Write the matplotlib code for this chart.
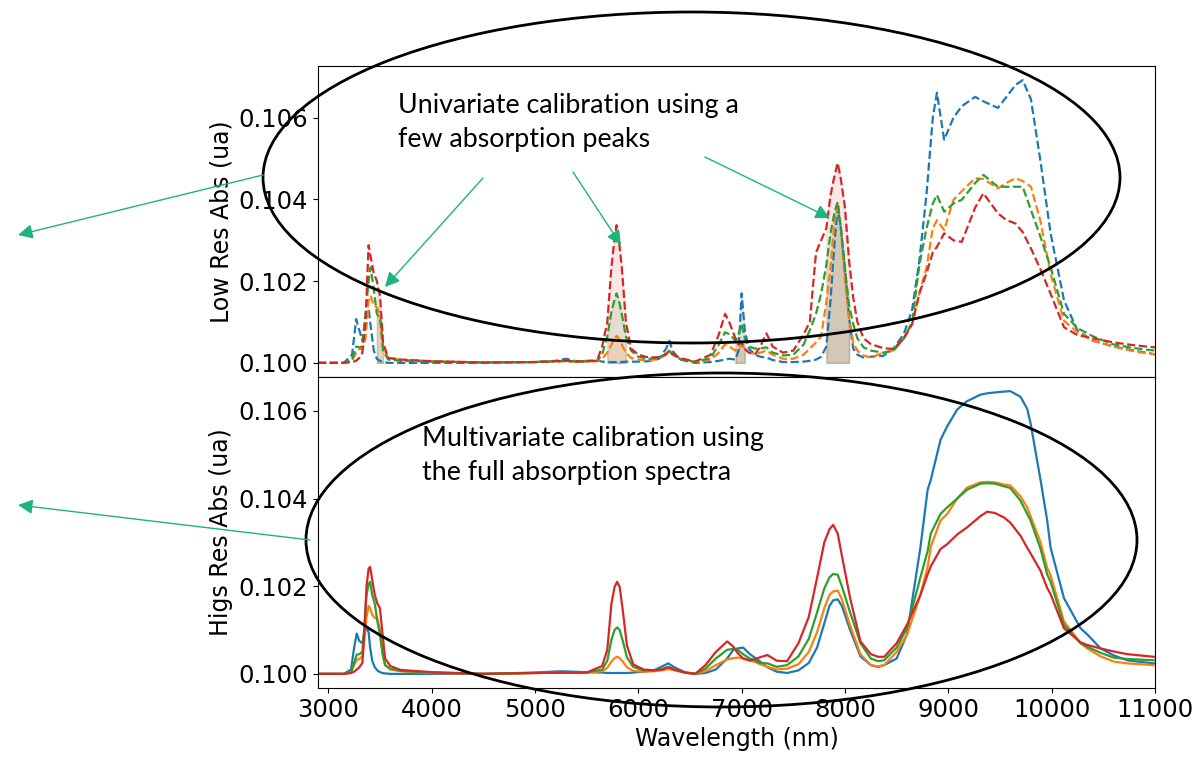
import numpy as np
import matplotlib
matplotlib.use("Agg")
import matplotlib.pyplot as plt
from matplotlib.patches import Ellipse

plt.rcParams['font.size'] = 17
plt.rcParams['xtick.labelsize'] = 17.5
plt.rcParams['ytick.labelsize'] = 17.5

# ---- top panel (low resolution spectra, dashed) ----
wl_low = [2900, 3150, 3230, 3270, 3300, 3330, 3360, 3390, 3410, 3440, 3470, 3500, 3530, 3580,
          3700, 4000, 4500, 5000, 5200, 5300, 5400, 5600, 5650, 5700, 5740, 5770, 5790, 5810,
          5840, 5880, 5930, 6000, 6100, 6200, 6270, 6300, 6330, 6400, 6550, 6700, 6780, 6840,
          6880, 6940, 6970, 7000, 7030, 7070, 7130, 7180, 7240, 7300, 7400, 7500, 7600, 7660,
          7720, 7770, 7820, 7860, 7900, 7930, 7960, 8000, 8040, 8080, 8120, 8180, 8250, 8370,
          8470, 8570, 8650, 8720, 8790, 8850, 8890, 8960, 9050, 9130, 9260, 9340, 9480, 9560,
          9650, 9720, 9800, 9890, 9990, 10120, 10250, 10400, 10600, 10800, 11000]

low_blue = [0.10000, 0.10000, 0.10020, 0.10107, 0.10080, 0.10054, 0.10110, 0.10132, 0.10090, 0.10030,
            0.10010, 0.10005, 0.10002, 0.10000, 0.10000, 0.10000, 0.10000, 0.10002, 0.10005, 0.10010,
            0.10004, 0.10006, 0.10003, 0.10002, 0.10002, 0.10002, 0.10002, 0.10002, 0.10002, 0.10003,
            0.10003, 0.10003, 0.10004, 0.10010, 0.10035, 0.10054, 0.10030, 0.10008, 0.10000, 0.10002,
            0.10005, 0.10008, 0.10010, 0.10008, 0.10030, 0.10170, 0.10080, 0.10035, 0.10020, 0.10015,
            0.10013, 0.10007, 0.10002, 0.10002, 0.10003, 0.10005, 0.10008, 0.10015, 0.10040, 0.10153,
            0.10300, 0.10379, 0.10330, 0.10230, 0.10110, 0.10035, 0.10020, 0.10013, 0.10015, 0.10017,
            0.10035, 0.10071, 0.10130, 0.10250, 0.10415, 0.10600, 0.10661, 0.10546, 0.10600, 0.10628,
            0.10651, 0.10640, 0.10624, 0.10650, 0.10680, 0.10692, 0.10645, 0.10497, 0.10317, 0.10153,
            0.10079, 0.10054, 0.10040, 0.10030, 0.10021]

low_orange = [0.10000, 0.10000, 0.10005, 0.10025, 0.10034, 0.10034, 0.10060, 0.10150, 0.10165, 0.10140,
              0.10136, 0.10120, 0.10040, 0.10012, 0.10008, 0.10004, 0.10001, 0.10002, 0.10003, 0.10004,
              0.10003, 0.10004, 0.10010, 0.10025, 0.10045, 0.10060, 0.10066, 0.10060, 0.10045, 0.10025,
              0.10012, 0.10008, 0.10006, 0.10010, 0.10020, 0.10028, 0.10020, 0.10010, 0.10002, 0.10008,
              0.10025, 0.10046, 0.10040, 0.10030, 0.10035, 0.10045, 0.10035, 0.10025, 0.10022, 0.10025,
              0.10030, 0.10020, 0.10010, 0.10010, 0.10020, 0.10035, 0.10050, 0.10065, 0.10150, 0.10234,
              0.10350, 0.10391, 0.10330, 0.10200, 0.10110, 0.10050, 0.10030, 0.10018, 0.10013, 0.10025,
              0.10030, 0.10060, 0.10095, 0.10170, 0.10234, 0.10330, 0.10349, 0.10325, 0.10399, 0.10420,
              0.10452, 0.10450, 0.10427, 0.10440, 0.10452, 0.10445, 0.10431, 0.10349, 0.10218, 0.10103,
              0.10075, 0.10055, 0.10040, 0.10028, 0.10021]

low_green = [0.10000, 0.10000, 0.10008, 0.10040, 0.10038, 0.10040, 0.10120, 0.10200, 0.10234, 0.10180,
             0.10120, 0.10110, 0.10030, 0.10008, 0.10005, 0.10003, 0.10001, 0.10002, 0.10004, 0.10005,
             0.10003, 0.10005, 0.10020, 0.10065, 0.10125, 0.10155, 0.10170, 0.10155, 0.10120, 0.10065,
             0.10030, 0.10015, 0.10010, 0.10012, 0.10022, 0.10030, 0.10022, 0.10010, 0.10002, 0.10012,
             0.10045, 0.10075, 0.10070, 0.10055, 0.10070, 0.10095, 0.10060, 0.10040, 0.10035, 0.10035,
             0.10038, 0.10025, 0.10018, 0.10020, 0.10045, 0.10080, 0.10120, 0.10170, 0.10240, 0.10317,
             0.10370, 0.10394, 0.10330, 0.10230, 0.10140, 0.10095, 0.10060, 0.10038, 0.10030, 0.10025,
             0.10030, 0.10060, 0.10100, 0.10240, 0.10330, 0.10390, 0.10411, 0.10370, 0.10390, 0.10399,
             0.10440, 0.10460, 0.10431, 0.10431, 0.10431, 0.10431, 0.10374, 0.10310, 0.10234, 0.10120,
             0.10085, 0.10065, 0.10045, 0.10036, 0.10030]

low_red = [0.10000, 0.10000, 0.10002, 0.10005, 0.10012, 0.10025, 0.10100, 0.10288, 0.10260, 0.10220,
           0.10200, 0.10165, 0.10050, 0.10012, 0.10008, 0.10004, 0.10001, 0.10002, 0.10004, 0.10005,
           0.10003, 0.10005, 0.10040, 0.10100, 0.10235, 0.10305, 0.10337, 0.10305, 0.10235, 0.10100,
           0.10035, 0.10020, 0.10013, 0.10014, 0.10022, 0.10030, 0.10022, 0.10012, 0.10003, 0.10020,
           0.10070, 0.10120, 0.10100, 0.10060, 0.10045, 0.10050, 0.10035, 0.10025, 0.10021, 0.10040,
           0.10072, 0.10040, 0.10025, 0.10030, 0.10070, 0.10100, 0.10270, 0.10300, 0.10330, 0.10410,
           0.10460, 0.10489, 0.10450, 0.10380, 0.10250, 0.10160, 0.10100, 0.10060, 0.10046, 0.10036,
           0.10034, 0.10060, 0.10095, 0.10170, 0.10220, 0.10270, 0.10284, 0.10317, 0.10300, 0.10296,
           0.10380, 0.10415, 0.10366, 0.10350, 0.10341, 0.10320, 0.10280, 0.10230, 0.10169, 0.10087,
           0.10068, 0.10060, 0.10050, 0.10043, 0.10038]

# wavelength windows used for the univariate peaks
peak_windows = [(3460, 3530), (5700, 5880), (6940, 7030), (7820, 8040)]

# ---- bottom panel (high resolution spectra, solid) ----
wl_high = [2900, 3150, 3220, 3250, 3275, 3300, 3330, 3350, 3370, 3390, 3405, 3425, 3450, 3475,
           3500, 3525, 3550, 3600, 3700, 4000, 4500, 5000, 5250, 5500, 5650, 5700, 5740, 5770,
           5795, 5820, 5850, 5890, 5950, 6050, 6150, 6230, 6290, 6350, 6450, 6550, 6650, 6750,
           6860, 6920, 6960, 7014, 7080, 7180, 7250, 7340, 7440, 7550, 7650, 7730, 7800, 7850,
           7886, 7930, 7970, 8050, 8150, 8250, 8320, 8380, 8500, 8600, 8730, 8800, 8830, 8925,
           8990, 9086, 9181, 9312, 9376, 9450, 9538, 9600, 9699, 9763, 9796, 9893, 9957, 9990,
           10119, 10280, 10345, 10474, 10603, 10731, 10989]

high_blue = [0.10000, 0.10000, 0.10010, 0.10060, 0.10092, 0.10075, 0.10070, 0.10095, 0.10105, 0.10095,
             0.10060, 0.10030, 0.10015, 0.10008, 0.10004, 0.10002, 0.10001, 0.10000, 0.10000, 0.10000,
             0.10000, 0.10003, 0.10006, 0.10004, 0.10003, 0.10002, 0.10002, 0.10002, 0.10002, 0.10002,
             0.10002, 0.10002, 0.10003, 0.10005, 0.10008, 0.10017, 0.10024, 0.10015, 0.10004, 0.10000,
             0.10002, 0.10010, 0.10035, 0.10055, 0.10058, 0.10060, 0.10045, 0.10028, 0.10015, 0.10005,
             0.10002, 0.10008, 0.10025, 0.10060, 0.10115, 0.10155, 0.10168, 0.10170, 0.10155, 0.10100,
             0.10040, 0.10020, 0.10016, 0.10020, 0.10035, 0.10090, 0.10288, 0.10420, 0.10442, 0.10534,
             0.10565, 0.10603, 0.10622, 0.10637, 0.10640, 0.10642, 0.10644, 0.10645, 0.10632, 0.10605,
             0.10572, 0.10442, 0.10350, 0.10288, 0.10173, 0.10104, 0.10090, 0.10058, 0.10042, 0.10031,
             0.10024]

high_orange = [0.10000, 0.10000, 0.10004, 0.10020, 0.10032, 0.10034, 0.10040, 0.10080, 0.10130, 0.10155,
               0.10150, 0.10135, 0.10128, 0.10125, 0.10100, 0.10050, 0.10020, 0.10010, 0.10006, 0.10002,
               0.10000, 0.10002, 0.10003, 0.10003, 0.10006, 0.10014, 0.10028, 0.10036, 0.10039, 0.10036,
               0.10028, 0.10015, 0.10007, 0.10005, 0.10006, 0.10008, 0.10011, 0.10008, 0.10003, 0.10000,
               0.10006, 0.10020, 0.10033, 0.10036, 0.10037, 0.10036, 0.10032, 0.10022, 0.10016, 0.10010,
               0.10012, 0.10022, 0.10050, 0.10095, 0.10150, 0.10180, 0.10188, 0.10190, 0.10170, 0.10110,
               0.10045, 0.10020, 0.10017, 0.10020, 0.10050, 0.10089, 0.10180, 0.10244, 0.10290, 0.10350,
               0.10365, 0.10400, 0.10425, 0.10437, 0.10438, 0.10437, 0.10432, 0.10430, 0.10405, 0.10380,
               0.10360, 0.10300, 0.10242, 0.10225, 0.10120, 0.10070, 0.10058, 0.10040, 0.10028, 0.10024,
               0.10020]

high_green = [0.10000, 0.10000, 0.10005, 0.10025, 0.10044, 0.10045, 0.10050, 0.10110, 0.10180, 0.10205,
              0.10210, 0.10180, 0.10160, 0.10120, 0.10090, 0.10045, 0.10020, 0.10012, 0.10007, 0.10003,
              0.10000, 0.10002, 0.10003, 0.10003, 0.10010, 0.10030, 0.10078, 0.10100, 0.10106, 0.10100,
              0.10075, 0.10038, 0.10016, 0.10008, 0.10008, 0.10011, 0.10016, 0.10010, 0.10003, 0.10000,
              0.10012, 0.10035, 0.10055, 0.10057, 0.10055, 0.10045, 0.10035, 0.10025, 0.10024, 0.10016,
              0.10020, 0.10040, 0.10080, 0.10140, 0.10195, 0.10220, 0.10228, 0.10226, 0.10200, 0.10140,
              0.10070, 0.10035, 0.10029, 0.10031, 0.10060, 0.10104, 0.10220, 0.10280, 0.10320, 0.10365,
              0.10380, 0.10400, 0.10420, 0.10434, 0.10435, 0.10434, 0.10428, 0.10424, 0.10395, 0.10365,
              0.10350, 0.10285, 0.10227, 0.10210, 0.10112, 0.10070, 0.10062, 0.10048, 0.10037, 0.10034,
              0.10031]

high_red = [0.10000, 0.10000, 0.10002, 0.10005, 0.10010, 0.10015, 0.10025, 0.10100, 0.10200, 0.10240,
            0.10244, 0.10215, 0.10180, 0.10160, 0.10150, 0.10090, 0.10035, 0.10018, 0.10009, 0.10004,
            0.10000, 0.10002, 0.10003, 0.10003, 0.10018, 0.10055, 0.10160, 0.10198, 0.10210, 0.10198,
            0.10145, 0.10065, 0.10022, 0.10010, 0.10008, 0.10010, 0.10015, 0.10010, 0.10003, 0.10000,
            0.10020, 0.10050, 0.10074, 0.10062, 0.10048, 0.10035, 0.10030, 0.10038, 0.10043, 0.10030,
            0.10029, 0.10070, 0.10130, 0.10219, 0.10300, 0.10330, 0.10340, 0.10320, 0.10270, 0.10173,
            0.10074, 0.10045, 0.10039, 0.10039, 0.10070, 0.10112, 0.10180, 0.10227, 0.10245, 0.10285,
            0.10296, 0.10318, 0.10334, 0.10360, 0.10370, 0.10367, 0.10357, 0.10345, 0.10315, 0.10288,
            0.10275, 0.10235, 0.10196, 0.10182, 0.10104, 0.10072, 0.10066, 0.10058, 0.10051, 0.10045,
            0.10039]

colors = ['tab:blue', 'tab:orange', 'tab:green', 'tab:red']
low_series = [low_blue, low_orange, low_green, low_red]
high_series = [high_blue, high_orange, high_green, high_red]

fig, (ax1, ax2) = plt.subplots(2, 1, sharex=True, figsize=(11.94, 7.61), dpi=100)
fig.subplots_adjust(left=0.2663, right=0.9673, top=0.9133, bottom=0.0959, hspace=0)

x_low = np.array(wl_low)
for y, c in zip(low_series, colors):
    ax1.plot(wl_low, y, '--', color=c, lw=1.6)
    for lo, hi in peak_windows:
        ax1.fill_between(x_low, 0.1, y, where=(x_low >= lo) & (x_low <= hi),
                         color=c, alpha=0.11)
for y, c in zip(high_series, colors):
    ax2.plot(wl_high, y, '-', color=c, lw=1.6)

ax1.set_ylabel('Low Res Abs (ua)')
ax2.set_ylabel('Higs Res Abs (ua)')
ax2.set_xlabel('Wavelength (nm)')
ax2.set_xlim(2900, 11000)
ax1.set_yticks([0.100, 0.102, 0.104, 0.106])
ax2.set_yticks([0.100, 0.102, 0.104, 0.106])
ax2.set_xticks(range(3000, 11001, 1000))

# annotation layer in figure pixels
ov = fig.add_axes([0, 0, 1, 1])
ov.set_xlim(0, 1194)
ov.set_ylim(761, 0)
ov.axis('off')
ov.patch.set_alpha(0)

ov.add_patch(Ellipse((691.5, 177.5), 857, 331, fill=False, lw=2.0, color='black'))
ov.add_patch(Ellipse((721.5, 540), 831, 334, fill=False, lw=2.0, color='black'))

arrow_green = '#1db57a'
arrows = [((263, 175), (18, 235)), ((310, 540), (18, 505)),
          ((483, 178), (385, 287)), ((573, 172), (621, 245)), ((705, 157), (830, 218))]
for tail, head in arrows:
    ov.annotate('', xy=head, xytext=tail,
                arrowprops=dict(arrowstyle='-|>', color=arrow_green, lw=1.0,
                                mutation_scale=22, shrinkA=0, shrinkB=0))

ov.text(398, 93, 'Univariate calibration using a\nfew absorption peaks', family='Lato',
        fontsize=19.3, va='top', ha='left', linespacing=1.45)
ov.text(422, 426, 'Multivariate calibration using\nthe full absorption spectra', family='Lato',
        fontsize=19.3, va='top', ha='left', linespacing=1.45)

fig.savefig('out.png', dpi=100)
